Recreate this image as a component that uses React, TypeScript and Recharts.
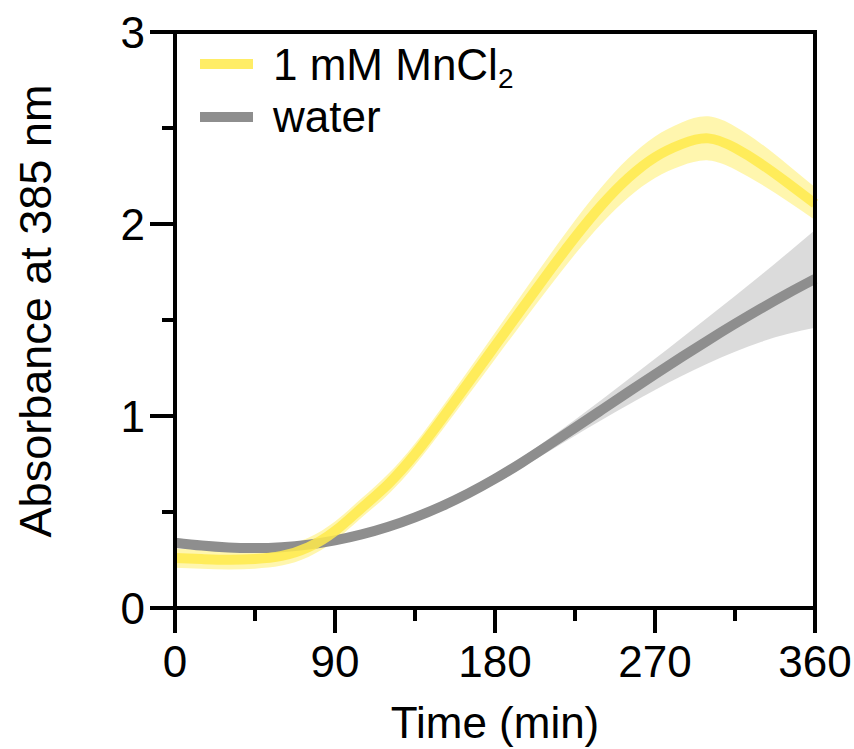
import React from 'react';
import { ComposedChart, Area, Line, XAxis, YAxis, ReferenceLine, Legend, Label } from 'recharts';

const FONT = '"Liberation Sans", Arial, Helvetica, sans-serif';

const times = [0, 15, 30, 45, 60, 75, 90, 105, 120, 135, 150, 165, 180, 195, 210, 225, 240, 255, 270, 285, 300, 315, 330, 345, 360];
const mnMean = [0.26, 0.255, 0.251, 0.255, 0.271, 0.316, 0.401, 0.521, 0.646, 0.801, 0.983, 1.173, 1.365, 1.557, 1.747, 1.930, 2.098, 2.240, 2.348, 2.416, 2.446, 2.396, 2.311, 2.211, 2.106];
const mnErr = [0.05, 0.05, 0.05, 0.05, 0.05, 0.05, 0.05, 0.05, 0.053, 0.056, 0.06, 0.064, 0.069, 0.075, 0.081, 0.088, 0.095, 0.102, 0.108, 0.113, 0.115, 0.112, 0.105, 0.095, 0.085];
const waterMean = [0.34, 0.325, 0.315, 0.312, 0.317, 0.330, 0.352, 0.383, 0.423, 0.472, 0.530, 0.597, 0.673, 0.757, 0.847, 0.939, 1.032, 1.125, 1.217, 1.307, 1.395, 1.480, 1.562, 1.640, 1.714];
const waterErr = [0.02, 0.02, 0.02, 0.02, 0.02, 0.02, 0.02, 0.02, 0.02, 0.02, 0.02, 0.02, 0.021, 0.026, 0.033, 0.042, 0.053, 0.066, 0.081, 0.099, 0.12, 0.145, 0.175, 0.212, 0.255];

const xTicks = [0, 45, 90, 135, 180, 225, 270, 315, 360];
const xMajor = [0, 90, 180, 270, 360];
const yTicks = [0, 0.5, 1, 1.5, 2, 2.5, 3];
const yMajor = [0, 1, 2, 3];

const seriesNames = ['1 mM MnCl', 'water'];
const seriesSub = ['2', ''];
const lineColors = ['rgb(255,234,75)', '#8e8e8e'];

const data = times.map((t, i) => ({
  t,
  mn: mnMean[i],
  mnBand: [mnMean[i] - mnErr[i], mnMean[i] + mnErr[i]],
  w: waterMean[i],
  wBand: [waterMean[i] - waterErr[i], waterMean[i] + waterErr[i]],
}));

const XTick = (props: any) => {
  const { x, y, payload } = props;
  const major = xMajor.includes(payload.value);
  return (
    <g>
      <line x1={x} x2={x} y1={y - 2} y2={y + (major ? 25 : 13)} stroke="#000" strokeWidth={4} />
      {major && (
        <text x={x} y={y + 69} textAnchor="middle" fontSize={44} fontFamily={FONT} fill="#000">
          {payload.value}
        </text>
      )}
    </g>
  );
};

const YTick = (props: any) => {
  const { x, y, payload } = props;
  const major = yMajor.includes(payload.value);
  return (
    <g>
      <line x1={x + 2} x2={x - (major ? 25 : 13)} y1={y} y2={y} stroke="#000" strokeWidth={4} />
      {major && (
        <text x={x - 30} y={y + 16} textAnchor="end" fontSize={44} fontFamily={FONT} fill="#000">
          {payload.value}
        </text>
      )}
    </g>
  );
};

const YLabel = (props: any) => {
  const vb = props.viewBox || { x: 0, y: 32, width: 175, height: 576 };
  const cx = vb.x + 51;
  const cy = vb.y + vb.height / 2 - 9;
  return (
    <text x={cx} y={cy} transform={`rotate(-90, ${cx}, ${cy})`} textAnchor="middle" fontSize={45} fontFamily={FONT} fill="#000">
      Absorbance at 385 nm
    </text>
  );
};

const XLabel = (props: any) => {
  const vb = props.viewBox || { x: 175, y: 608, width: 640, height: 141 };
  return (
    <text x={vb.x + vb.width / 2} y={vb.y + 130} textAnchor="middle" fontSize={44} fontFamily={FONT} fill="#000">
      Time (min)
    </text>
  );
};

const LegendContent = () => (
  <svg width={340} height={130} style={{ overflow: 'visible' }}>
    {seriesNames.map((name, i) => (
      <g key={name}>
        <line x1={5} x2={58} y1={29 + i * 53} y2={29 + i * 53} stroke={lineColors[i]} strokeWidth={10} strokeOpacity={i === 0 ? 0.85 : 1} />
        <text x={78} y={45 + i * 52} fontSize={44} fontFamily={FONT} fill="#000">
          {name}
          {seriesSub[i] && (
            <tspan dy={8} fontSize={28}>
              {seriesSub[i]}
            </tspan>
          )}
        </text>
      </g>
    ))}
  </svg>
);

export default function App() {
  return (
    <div style={{ position: 'absolute', left: 0, top: 0, width: 854, height: 749, background: '#fff' }}>
      <ComposedChart width={854} height={749} data={data} margin={{ top: 32, right: 39, left: 0, bottom: 0 }}>
        <XAxis
          dataKey="t"
          type="number"
          domain={[0, 360]}
          ticks={xTicks}
          interval={0}
          height={141}
          tickLine={false}
          tickSize={0}
          tickMargin={0}
          axisLine={{ stroke: '#000', strokeWidth: 4 }}
          tick={<XTick />}
        >
          <Label content={<XLabel />} />
        </XAxis>
        <YAxis
          type="number"
          domain={[0, 3]}
          ticks={yTicks}
          interval={0}
          width={175}
          tickLine={false}
          tickSize={0}
          tickMargin={0}
          axisLine={{ stroke: '#000', strokeWidth: 4 }}
          tick={<YTick />}
        >
          <Label content={<YLabel />} />
        </YAxis>
        <Area type="natural" dataKey="wBand" stroke="none" fill="#d9d9d9" fillOpacity={0.95} isAnimationActive={false} activeDot={false} />
        <Line type="natural" dataKey="w" stroke="#8e8e8e" strokeWidth={10} dot={false} activeDot={false} isAnimationActive={false} />
        <Area type="natural" dataKey="mnBand" stroke="none" fill="rgb(255,240,120)" fillOpacity={0.6} isAnimationActive={false} activeDot={false} />
        <Line type="natural" dataKey="mn" stroke="rgb(255,234,75)" strokeOpacity={0.85} strokeWidth={10} dot={false} activeDot={false} isAnimationActive={false} />
        <ReferenceLine y={3} stroke="#000" strokeWidth={4} strokeLinecap="square" />
        <ReferenceLine x={360} stroke="#000" strokeWidth={4} strokeLinecap="square" />
        <Legend
          layout="vertical"
          align="center"
          verticalAlign="middle"
          content={<LegendContent />}
          wrapperStyle={{ left: 195, top: 35, width: 340, height: 130 }}
        />
      </ComposedChart>
    </div>
  );
}
